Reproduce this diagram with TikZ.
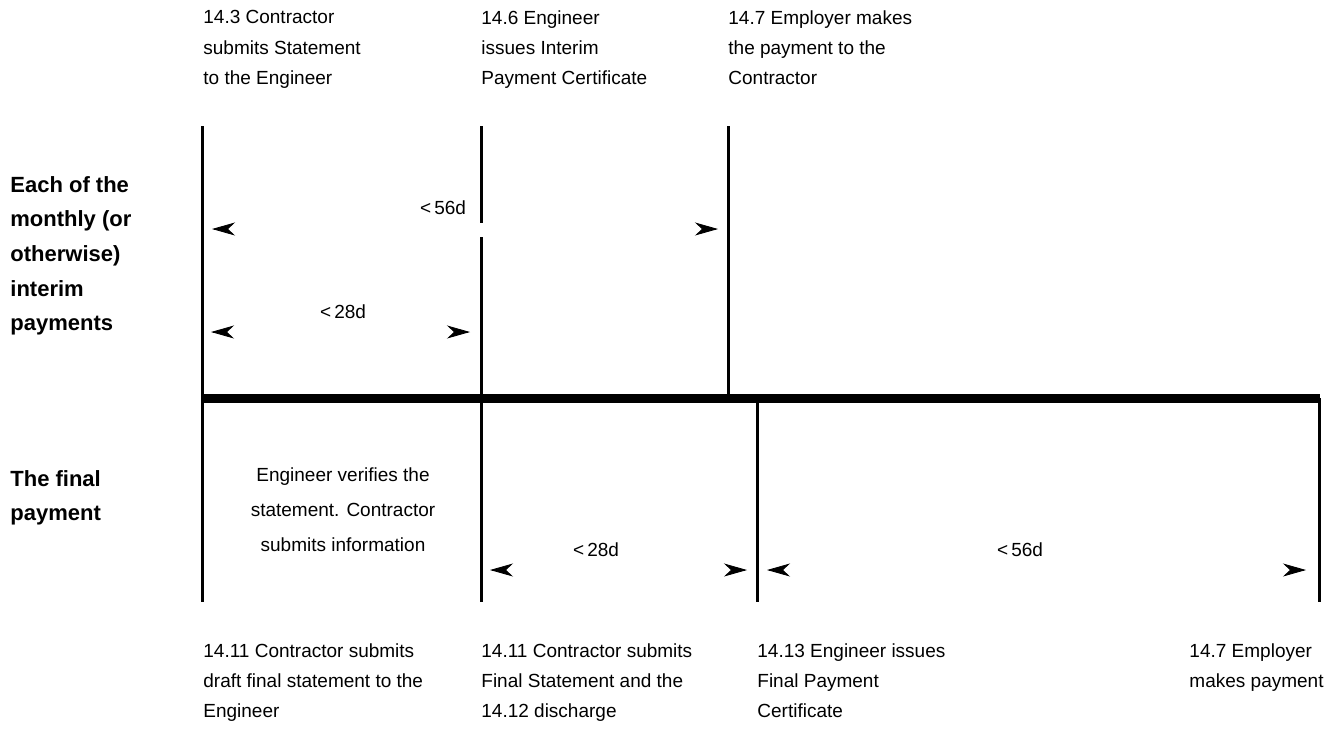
\documentclass[tikz,border=0pt]{standalone}
\usepackage{fontspec}
\setmainfont{Liberation Sans}
\usetikzlibrary{arrows.meta}

\begin{document}
\begin{tikzpicture}[x=0.5pt, y=-0.5pt,
    event/.style={anchor=north west, align=left, inner sep=0pt, font=\fontsize{9.5}{15.2}\selectfont},
    rowlabel/.style={anchor=north west, align=left, inner sep=0pt, font=\fontsize{11}{17.3}\selectfont\bfseries},
    period/.style={inner sep=0pt, font=\fontsize{9.5}{17.5}\selectfont},
    tick/.style={line width=1.5pt},
    timeline/.style={line width=4.5pt},
    dimtip/.style={-{Stealth[length=11.5pt, width=6.5pt, inset=3.5pt]}}
    ]
    \useasboundingbox (0,0) rectangle (1339,735);

    % the time axis and its ticks
    \coordinate (axL) at (202,398);
    \coordinate (axR) at (1320,398);
    \foreach \t/\x/\ya/\yb in {s/202/126/602, c/481/126/223, d/481/237/602, p/728/126/398, q/757/398/602, e/1319/398/602} {
        \coordinate (\t top) at (\x,\ya);
        \coordinate (\t bot) at (\x,\yb);
        \draw[tick] (\t top) -- (\t bot);
    }
    \draw[timeline] (axL) -- (axR);

    % row labels
    \node[rowlabel] (interim) at (10,176) {Each of the\\monthly (or\\otherwise)\\interim\\payments};
    \node[rowlabel] (final) at (10,470) {The final\\payment};

    % events above the axis
    \node[event] (stmt) at (203,10) {14.3 Contractor\\submits Statement\\to the Engineer};
    \node[event] (ipc) at (481,10) {14.6 Engineer\\issues Interim\\Payment Certificate};
    \node[event] (pay) at (728,10) {14.7 Employer makes\\the payment to the\\Contractor};

    % events below the axis
    \node[event] (draft) at (203,643) {14.11 Contractor submits\\draft final statement to the\\Engineer};
    \node[event] (fstmt) at (481,643) {14.11 Contractor submits\\Final Statement and the\\14.12 discharge};
    \node[event] (fpc) at (757,643) {14.13 Engineer issues\\Final Payment\\Certificate};
    \node[event, anchor=north east] (fpay) at (1324,643) {14.7 Employer\\makes payment};

    \node[period, align=center] (verify) at (343,510) {Engineer verifies the\\statement. Contractor\\submits information};

    % time limits
    \foreach \n/\xa/\xb/\y/\lx/\ly/\txt in {i56/212/718/229/443/208/{<\,56d}, i28/211/470/332/343/312/{<\,28d}, f28/490/747/570/596/550/{<\,28d}, f56/767/1306/570/1020/550/{<\,56d}} {
        \coordinate (\n L) at (\xa,\y);
        \coordinate (\n R) at (\xb,\y);
        \draw[dimtip] ([xshift=1pt]\n L) -- (\n L);
        \draw[dimtip] ([xshift=-1pt]\n R) -- (\n R);
        \node[period] (\n) at (\lx,\ly) {\txt};
    }
\end{tikzpicture}
\end{document}
